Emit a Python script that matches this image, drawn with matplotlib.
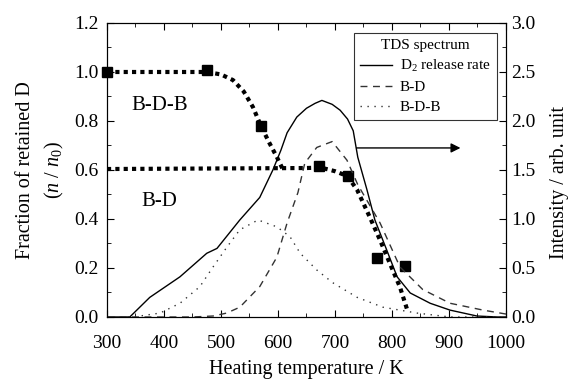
import matplotlib
matplotlib.use("Agg")
import matplotlib.pyplot as plt
from matplotlib.ticker import MultipleLocator

plt.rcParams['font.family'] = ['Liberation Serif', 'DejaVu Serif']
plt.rcParams['mathtext.fontset'] = 'custom'
plt.rcParams['mathtext.rm'] = 'Liberation Serif'
plt.rcParams['mathtext.it'] = 'Liberation Serif:italic'

# retained fraction (measured points)
temp_pts = [300, 475, 570, 672, 722, 773, 822]
frac_pts = [1.0, 1.01, 0.78, 0.615, 0.575, 0.24, 0.21]

# guide lines for retained fraction
bdb_guide_t = [300, 475, 500, 521, 540, 556, 570, 585, 598, 608]
bdb_guide_f = [1.0, 1.0, 0.99, 0.967, 0.92, 0.857, 0.78, 0.71, 0.653, 0.605]
bd_guide_t = [300, 650, 675, 700, 722, 739, 761, 779, 796, 814, 828]
bd_guide_f = [0.604, 0.608, 0.61, 0.595, 0.575, 0.518, 0.408, 0.314, 0.22, 0.122, 0.02]

# TDS spectrum (right axis)
d2_t = [300, 340, 375, 428, 475, 493, 533, 568, 591, 605, 616, 633, 650, 665, 677, 695, 709,
        722, 732, 740, 756, 770, 791, 809, 832, 867, 902, 949, 985, 1000]
d2_i = [0.0, 0.0, 0.20, 0.41, 0.65, 0.70, 0.99, 1.22, 1.50, 1.70, 1.88, 2.04, 2.13, 2.18, 2.21,
        2.17, 2.11, 2.02, 1.90, 1.63, 1.30, 0.99, 0.68, 0.41, 0.245, 0.14, 0.07, 0.01, 0.0, 0.0]

bd_t = [300, 450, 486, 510, 533, 568, 598, 616, 635, 647, 668, 695, 721, 740, 760,
        779, 814, 854, 902, 960, 1000]
bd_i = [0.0, 0.0, 0.01, 0.04, 0.10, 0.31, 0.61, 0.96, 1.27, 1.57, 1.73, 1.79, 1.60, 1.35, 1.15,
        0.96, 0.51, 0.28, 0.14, 0.07, 0.03]

bdb_t = [300, 346, 393, 428, 463, 486, 510, 533, 565, 598, 621, 639, 668, 696, 739,
         784, 844, 902, 1000]
bdb_i = [0.0, 0.0, 0.04, 0.14, 0.31, 0.51, 0.71, 0.89, 0.99, 0.92, 0.82, 0.65, 0.48, 0.35, 0.20,
         0.10, 0.04, 0.0, 0.0]

fig = plt.figure(figsize=(5.7, 3.8), dpi=100)
ax = fig.add_axes([0.1877, 0.1658, 0.70, 0.7737])
ax2 = ax.twinx()

ax2.plot(d2_t, d2_i, color='k', lw=1.0, label='D$_2$ release rate')
ax2.plot(bd_t, bd_i, color='#333333', lw=1.0, linestyle=(0, (5, 4)), label='B-D')
ax2.plot(bdb_t, bdb_i, color='#333333', lw=1.0, linestyle=(0, (1, 4)), label='B-D-B')

ax.plot(bdb_guide_t, bdb_guide_f, color='k', lw=3, linestyle=(0, (1, 1)))
ax.plot(bd_guide_t, bd_guide_f, color='k', lw=3, linestyle=(0, (1, 1)))
ax.plot(temp_pts, frac_pts, 's', color='k', ms=7, zorder=5, clip_on=False)

ax.set_xlim(300, 1000)
ax.set_ylim(0, 1.2)
ax2.set_ylim(0, 3.0)
ax.xaxis.set_major_locator(MultipleLocator(100))
ax.xaxis.set_minor_locator(MultipleLocator(50))
ax.yaxis.set_major_locator(MultipleLocator(0.2))
ax.yaxis.set_minor_locator(MultipleLocator(0.1))
ax2.yaxis.set_major_locator(MultipleLocator(0.5))
ax2.yaxis.set_minor_locator(MultipleLocator(0.25))
ax.yaxis.set_major_formatter(plt.FuncFormatter(lambda v, p: f"{v:.1f}"))
ax2.yaxis.set_major_formatter(plt.FuncFormatter(lambda v, p: f"{v:.1f}"))

ax.tick_params(which='both', direction='in', top=True, labelsize=14)
ax.tick_params(axis='x', pad=13)
ax.tick_params(axis='y', pad=6)
ax.tick_params(which='major', length=5)
ax.tick_params(which='minor', length=3)
ax2.tick_params(which='both', direction='in', labelsize=14, pad=4)
ax2.tick_params(which='major', length=5)
ax2.tick_params(which='minor', length=3)

ax.set_xlabel("Heating temperature / K", fontsize=14.5, labelpad=6)
ax.set_ylabel("Fraction of retained D\n($n$ / $n_0$)", fontsize=14.5, labelpad=6, linespacing=1.5)
ax2.set_ylabel("Intensity / arb. unit", fontsize=14.5, rotation=90, va='center', ha='center')
ax2.yaxis.set_label_coords(1.133, 0.456)

ax.text(393, 0.865, "B-D-B", fontsize=15, ha='center', va='center')
ax.text(391, 0.47, "B-D", fontsize=15, ha='center', va='center')

ax.annotate("", xy=(925, 0.69), xytext=(733, 0.69),
            arrowprops=dict(arrowstyle='-|>', color='k', lw=1.0, mutation_scale=14))

leg = ax2.legend(loc='upper right', bbox_to_anchor=(0.977, 0.966), borderaxespad=0,
                 title='TDS spectrum',
                 fontsize=11, title_fontsize=11, frameon=True, fancybox=False,
                 handlelength=2.1, borderpad=0.4, labelspacing=0.4, handletextpad=0.5)
leg.get_frame().set_edgecolor('k')
leg.get_frame().set_linewidth(0.8)

fig.savefig("out.png", dpi=100)
